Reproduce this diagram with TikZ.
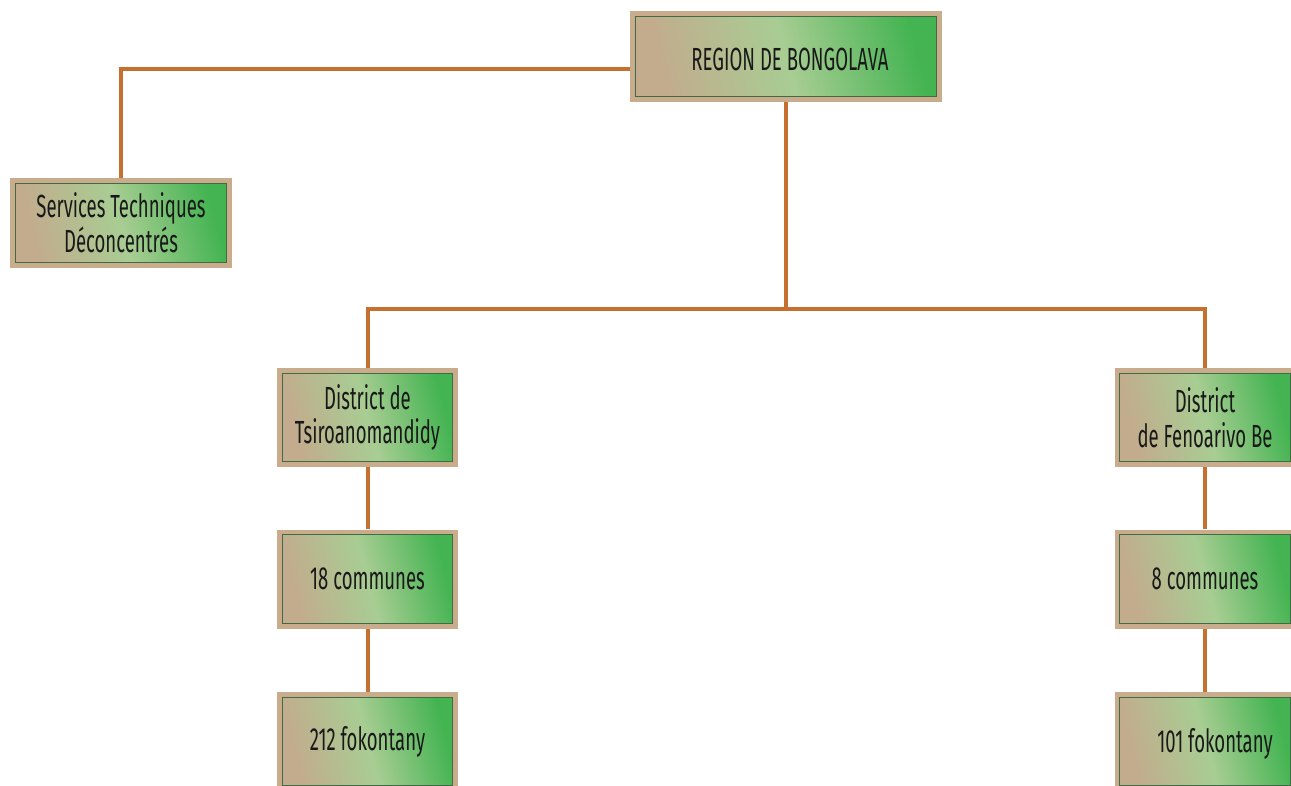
\documentclass[tikz,border=0pt]{standalone}
\usepackage{fontspec}
\setmainfont[FakeStretch=0.58]{Fira Sans}
\usetikzlibrary{backgrounds,calc}
\definecolor{tanb}{HTML}{C9AC8C}
\definecolor{tanin}{HTML}{C3AB8D}
\definecolor{lgreen}{HTML}{A8CD93}
\definecolor{dgreen}{HTML}{44B452}
\definecolor{edgeg}{HTML}{3F6B45}
\definecolor{wire}{HTML}{C5702F}
\tikzset{
  orgbox/.style={fill=tanb, inner sep=0pt, align=center, text=black!90,
    font=\fontsize{24}{26}\selectfont,
    path picture={
      \shade[left color=tanb, middle color=dgreen!85!black, right color=tanb]
        ([shift={(15pt,-1.8pt)}]path picture bounding box.north west) rectangle
        ([shift={(-15pt,-3.6pt)}]path picture bounding box.north east);
      \shade[left color=tanb, middle color=dgreen!85!black, right color=tanb]
        ([shift={(15pt,1.8pt)}]path picture bounding box.south west) rectangle
        ([shift={(-15pt,3.6pt)}]path picture bounding box.south east);
      \shade[left color=tanin, right color=dgreen, middle color=lgreen, shading angle=105]
        ([shift={(4pt,-4pt)}]path picture bounding box.north west) rectangle
        ([shift={(-4pt,4pt)}]path picture bounding box.south east);
      \draw[edgeg, line width=0.9pt]
        ([shift={(4pt,-4pt)}]path picture bounding box.north west) rectangle
        ([shift={(-4pt,4pt)}]path picture bounding box.south east);
    }},
  boxsize/.style={minimum width=181*0.75pt, minimum height=99*0.75pt},
  wirel/.style={draw=wire, line width=3pt}
}
\begin{document}
\begin{tikzpicture}[x=0.75pt,y=-0.75pt]
\clip (0,0) rectangle (1291,785);
\useasboundingbox (0,0) rectangle (1291,785);
\node[orgbox, minimum width=312*0.75pt, minimum height=91*0.75pt] (reg) at (786,56.5) {};
\node[font=\fontsize{24}{26}\selectfont, text=black!90] (regt) at (790,59) {REGION DE BONGOLAVA};
\node[orgbox, minimum width=222*0.75pt, minimum height=90*0.75pt] (svc) at (121,223) {Services Techniques\\Déconcentrés};
\node[orgbox, boxsize] (d1) at (367.5,417.5) {District de\\Tsiroanomandidy};
\node[orgbox, boxsize] (c1) at (367.5,579) {18 communes};
\node[orgbox, boxsize] (f1) at (367.5,741.5) {212 fokontany};
\node[orgbox, boxsize] (d2) at (1205,417.5) {District\\de Fenoarivo Be};
\node[orgbox, boxsize] (c2) at (1205,579) {8 communes};
\node[orgbox, boxsize] (f2) at (1205,741.5) {};
\node[font=\fontsize{24}{26}\selectfont, text=black!90] (f2t) at (1215,744) {101 fokontany};
\begin{scope}[on background layer]
\draw[wirel] (svc.north) |- ([yshift=-9.4pt]reg.west);
\draw[wirel] (reg.south) -- ++(0,207) coordinate (j);
\draw[wirel] (d1.north) |- (j) -| (d2.north);
\draw[wirel] (d1) -- (c1);
\draw[wirel] (c1) -- (f1);
\draw[wirel] (d2) -- (c2);
\draw[wirel] (c2) -- (f2);
\end{scope}
\end{tikzpicture}
\end{document}
